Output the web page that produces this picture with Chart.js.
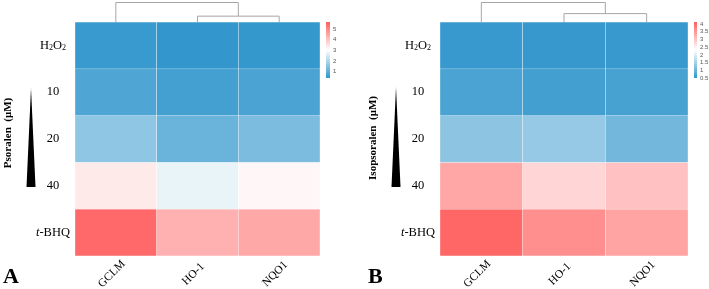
<!DOCTYPE html>
<html lang="en">
<head>
<meta charset="UTF-8">
<title>Psoralen / Isopsoralen heatmaps</title>
<style>
    body { margin: 0; background: #fff; }
    #wrap { position: relative; width: 709px; height: 289px; }
    #panelA { position: absolute; left: 0; top: 0; }
    #panelB { position: absolute; left: 355px; top: 0; }
</style>
</head>
<body>
<div id="wrap">
    <canvas id="panelA" width="355" height="289"></canvas>
    <canvas id="panelB" width="354" height="289"></canvas>
</div>

<script src="https://cdn.jsdelivr.net/npm/chart.js"></script>
<script>
// Data
const genes = ['GCLM', 'HO-1', 'NQO1'];
const rowLabels = ['H2O2', '10', '20', '40', 't-BHQ'];

// relative expression, rows = treatment, columns = gene
const psoralenValues = [
    [0.49, 0.43, 0.45],
    [0.78, 0.64, 0.72],
    [1.60, 1.12, 1.35],
    [3.37, 2.74, 3.15],
    [5.49, 4.32, 4.46]
];
const isopsoralenValues = [
    [0.56, 0.54, 0.55],
    [0.72, 0.65, 0.69],
    [1.30, 1.39, 1.08],
    [3.32, 2.79, 3.02],
    [4.05, 3.58, 3.36]
];

// colour key ranges and their tick labels
const psoralenRange = [0.4, 5.65];
const psoralenKeyTicks = [1, 2, 3, 4, 5];
const isopsoralenRange = [0.5, 4.13];
const isopsoralenKeyTicks = [0.5, 1, 1.5, 2, 2.5, 3, 3.5, 4];

// column dendrogram merges: [left, right, height 0..1]
// a number is a column index, 'mN' is the N-th merge above
const psoralenTree = [[1, 2, 0.30], [0, 'm0', 1]];
const isopsoralenTree = [[1, 2, 0.43], [0, 'm0', 1]];

const lowColor = [49, 150, 204];
const highColor = [255, 95, 95];

function heatColor(v, range) {
    const mid = (range[0] + range[1]) / 2;
    let t, c;
    if (v <= mid) {
        t = Math.min(1, (mid - v) / (mid - range[0]));
        c = lowColor;
    } else {
        t = Math.min(1, (v - mid) / (range[1] - mid));
        c = highColor;
    }
    const ch = i => Math.round(255 + (c[i] - 255) * t);
    return `rgb(${ch(0)},${ch(1)},${ch(2)})`;
}

const SERIF = '"Liberation Serif", "Times New Roman", serif';

// draws labels, dendrogram, colour key etc. around the heatmap
const heatDecor = {
    id: 'heatDecor',
    afterDraw(chart, args, opts) {
        const ctx = chart.ctx;
        const area = chart.chartArea;
        const xs = chart.scales.x;
        const ys = chart.scales.y;
        ctx.save();
        ctx.fillStyle = '#000';

        // row labels
        const cx = area.left - 22;
        rowLabels.forEach((lab, i) => {
            const y = ys.getPixelForValue(i + 0.5);
            ctx.textBaseline = 'middle';
            ctx.textAlign = 'left';
            if (lab === 'H2O2') {
                const big = '12.5px ' + SERIF, small = '8px ' + SERIF;
                const parts = [['H', big, 0], ['2', small, 3], ['O', big, 0], ['2', small, 3]];
                let w = 0;
                parts.forEach(p => { ctx.font = p[1]; w += ctx.measureText(p[0]).width; });
                let x = cx - w / 2;
                parts.forEach(p => {
                    ctx.font = p[1];
                    ctx.fillText(p[0], x, y + p[2]);
                    x += ctx.measureText(p[0]).width;
                });
            } else if (lab === 't-BHQ') {
                ctx.font = 'italic 12.5px ' + SERIF;
                const w1 = ctx.measureText('t').width;
                ctx.font = '12.5px ' + SERIF;
                const w2 = ctx.measureText('-BHQ').width;
                const x = cx - (w1 + w2) / 2;
                ctx.font = 'italic 12.5px ' + SERIF;
                ctx.fillText('t', x, y);
                ctx.font = '12.5px ' + SERIF;
                ctx.fillText('-BHQ', x + w1, y);
            } else {
                ctx.font = '12.5px ' + SERIF;
                ctx.textAlign = 'center';
                ctx.fillText(lab, cx, y);
            }
        });

        // column labels, rotated 45deg
        ctx.font = '11.5px ' + SERIF;
        ctx.textAlign = 'center';
        ctx.textBaseline = 'middle';
        genes.forEach((g, i) => {
            const x = xs.getPixelForValue(i) - 4;
            ctx.save();
            ctx.translate(x, area.bottom + 18);
            ctx.rotate(-Math.PI / 4);
            ctx.fillText(g, 0, 0);
            ctx.restore();
        });

        // y title
        ctx.save();
        ctx.translate(area.left - 67, opts.titleY);
        ctx.rotate(-Math.PI / 2);
        ctx.font = 'bold 11px ' + SERIF;
        ctx.textAlign = 'center';
        ctx.textBaseline = 'middle';
        ctx.fillText(opts.title, 0, 0);
        ctx.restore();

        // dose wedge
        const tx = area.left - 44;
        ctx.beginPath();
        ctx.moveTo(tx, opts.wedgeTop);
        ctx.lineTo(tx + 4.5, 187);
        ctx.lineTo(tx - 4.5, 187);
        ctx.closePath();
        ctx.fill();

        // panel letter
        ctx.font = 'bold 22px ' + SERIF;
        ctx.textAlign = 'left';
        ctx.textBaseline = 'alphabetic';
        ctx.fillText(opts.letter, area.left - 72, 283);

        // dendrogram
        ctx.strokeStyle = '#a6a6a6';
        ctx.lineWidth = 1;
        const base = area.top, span = base - 2.5;
        const nodes = [];
        const pos = k => typeof k === 'number'
            ? { x: xs.getPixelForValue(k), y: base }
            : nodes[+k.slice(1)];
        opts.tree.forEach(m => {
            const a = pos(m[0]), b = pos(m[1]);
            const y = base - span * m[2];
            ctx.beginPath();
            ctx.moveTo(a.x, a.y);
            ctx.lineTo(a.x, y);
            ctx.lineTo(b.x, y);
            ctx.lineTo(b.x, b.y);
            ctx.stroke();
            nodes.push({ x: (a.x + b.x) / 2, y: y });
        });

        // colour key
        const kx = area.right + 6, kw = opts.keyWidth;
        const kTop = area.top, kBot = area.top + 56;
        const r = opts.range;
        const grad = ctx.createLinearGradient(0, kBot, 0, kTop);
        grad.addColorStop(0, heatColor(r[0], r));
        grad.addColorStop(0.5, '#ffffff');
        grad.addColorStop(1, heatColor(r[1], r));
        ctx.fillStyle = grad;
        ctx.fillRect(kx, kTop, kw, kBot - kTop);
        ctx.fillStyle = '#555';
        ctx.font = '6px "Liberation Sans", Arial, sans-serif';
        ctx.textAlign = 'left';
        ctx.textBaseline = 'middle';
        opts.keyTicks.forEach(t => {
            const y = kBot - (t - r[0]) / (r[1] - r[0]) * (kBot - kTop);
            ctx.fillText(String(t), kx + kw + 3, y);
        });
        ctx.restore();
    }
};

function makeHeatmap(canvasId, values, range, keyTicks, tree, decor, padding) {
    const datasets = rowLabels.map((lab, r) => ({
        label: lab,
        data: genes.map(() => 1),
        backgroundColor: values[r].map(v => heatColor(v, range)),
        borderColor: 'rgba(255,255,255,0.55)',
        borderWidth: 0.5,
        borderSkipped: false,
        barPercentage: 1,
        categoryPercentage: 1
    }));
    return new Chart(document.getElementById(canvasId), {
        type: 'bar',
        data: { labels: genes, datasets: datasets },
        options: {
            responsive: false,
            animation: false,
            layout: { padding: padding },
            scales: {
                x: { stacked: true, display: false },
                y: { stacked: true, display: false, min: 0, max: rowLabels.length, reverse: true }
            },
            plugins: {
                legend: { display: false },
                tooltip: { enabled: false },
                heatDecor: Object.assign({ range: range, keyTicks: keyTicks, tree: tree }, decor)
            }
        },
        plugins: [heatDecor]
    });
}

makeHeatmap('panelA', psoralenValues, psoralenRange, psoralenKeyTicks, psoralenTree,
    { title: 'Psoralen  (\u03bcM)', titleY: 133, wedgeTop: 88, letter: 'A', keyWidth: 4 },
    { left: 75, right: 35, top: 22, bottom: 33 });

makeHeatmap('panelB', isopsoralenValues, isopsoralenRange, isopsoralenKeyTicks, isopsoralenTree,
    { title: 'Isopsoralen  (\u03bcM)', titleY: 138, wedgeTop: 87, letter: 'B', keyWidth: 3 },
    { left: 85, right: 21, top: 22, bottom: 33 });
</script>
</body>
</html>
